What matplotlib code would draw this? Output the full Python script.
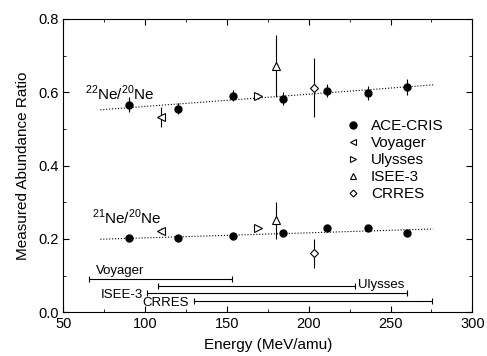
import matplotlib.pyplot as plt
from matplotlib.lines import Line2D
from matplotlib.ticker import MultipleLocator

plt.rcParams['font.family'] = ['Liberation Sans', 'DejaVu Sans']
plt.rcParams['mathtext.fontset'] = 'custom'
plt.rcParams['mathtext.rm'] = 'Liberation Sans'

# ACE-CRIS
ace_e = [90, 120, 154, 184, 211, 236, 260]
ace_22 = [0.566, 0.555, 0.590, 0.582, 0.604, 0.598, 0.615]
ace_22_err = [0.02, 0.015, 0.015, 0.018, 0.018, 0.018, 0.022]
ace_21 = [0.203, 0.202, 0.207, 0.216, 0.229, 0.230, 0.215]
ace_21_err = [0.006, 0.006, 0.006, 0.007, 0.008, 0.008, 0.008]

# other missions: energy, 22/20, err, 21/20, err
voy = [110, 0.533, 0.027, 0.221, 0.008]
uly = [169, 0.590, 0.008, 0.229, 0.006]
isee = [180, 0.672, 0.085, 0.251, 0.050]
crres = [203, 0.612, 0.080, 0.161, 0.040]

# dotted fits
fit_e = [72.6, 276]
fit_22 = [0.552, 0.620]
fit_21 = [0.199, 0.227]

# energy ranges
rng_names = ["Voyager", "Ulysses", "ISEE-3", "CRRES"]
rng_lo = [66, 108, 101, 130]
rng_hi = [153, 228, 260, 275.5]
rng_y = [0.090, 0.071, 0.052, 0.030]

fig, ax = plt.subplots(figsize=(4.87, 3.56), dpi=100)
fig.subplots_adjust(left=0.13, right=0.97, bottom=0.123, top=0.947)

ax.plot(fit_e, fit_22, ls=":", color="k", lw=0.8)
ax.plot(fit_e, fit_21, ls=":", color="k", lw=0.8)

ax.errorbar(ace_e, ace_22, yerr=ace_22_err, fmt="o", color="k", ms=5, elinewidth=0.8, capsize=0)
ax.errorbar(ace_e, ace_21, yerr=ace_21_err, fmt="o", color="k", ms=5, elinewidth=0.8, capsize=0)

handles = [Line2D([], [], ls="none", marker="o", color="k", ms=5)]
styles = [(voy, "<", "Voyager"), (uly, ">", "Ulysses"), (isee, "^", "ISEE-3"), (crres, "D", "CRRES")]
for d, m, name in styles:
    ms = 4.5 if m == "D" else 5.5
    ax.errorbar([d[0]], [d[1]], yerr=[d[2]], fmt=m, mfc="white", mec="k", color="k", ms=ms,
                mew=0.8, elinewidth=0.8, capsize=0)
    ax.errorbar([d[0]], [d[3]], yerr=[d[4]], fmt=m, mfc="white", mec="k", color="k", ms=ms,
                mew=0.8, elinewidth=0.8, capsize=0)
    handles.append(Line2D([], [], ls="none", marker=m, mfc="white", mec="k", ms=ms - 1, mew=0.8))

for i in range(len(rng_names)):
    ax.errorbar([(rng_lo[i] + rng_hi[i]) / 2], [rng_y[i]], xerr=[(rng_hi[i] - rng_lo[i]) / 2],
                fmt="none", ecolor="k", elinewidth=0.8, capsize=2, capthick=0.8)

ax.text(70, rng_y[0] + 0.005, "Voyager", fontsize=9.5, va="bottom", ha="left")
ax.text(rng_hi[1] + 2, rng_y[1] + 0.002, "Ulysses", fontsize=9.5, va="center", ha="left")
ax.text(rng_lo[2] - 2, rng_y[2] - 0.004, "ISEE-3", fontsize=9.5, va="center", ha="right")
ax.text(rng_lo[3] - 3, rng_y[3] - 0.006, "CRRES", fontsize=9.5, va="center", ha="right")

ax.text(63.5, 0.598, r"$^{22}$Ne/$^{20}$Ne", fontsize=11, va="center", ha="left")
ax.text(67.7, 0.258, r"$^{21}$Ne/$^{20}$Ne", fontsize=11, va="center", ha="left")

ax.set_xlim(50, 300)
ax.set_ylim(0.0, 0.8)
ax.xaxis.set_major_locator(MultipleLocator(50))
ax.xaxis.set_minor_locator(MultipleLocator(25))
ax.yaxis.set_major_locator(MultipleLocator(0.2))
ax.yaxis.set_minor_locator(MultipleLocator(0.1))
ax.yaxis.set_major_formatter(plt.FormatStrFormatter("%.1f"))
ax.tick_params(which="both", direction="in", top=True, right=True, labelsize=10.5)
ax.tick_params(which="major", length=4)
ax.tick_params(which="minor", length=2)
ax.set_xlabel("Energy (MeV/amu)", fontsize=11, labelpad=5)
ax.set_ylabel("Measured Abundance Ratio", fontsize=11, labelpad=6)

ax.legend(handles, ["ACE-CRIS", "Voyager", "Ulysses", "ISEE-3", "CRRES"],
          loc="upper left", bbox_to_anchor=(0.67, 0.68), frameon=False, fontsize=11,
          handletextpad=0.6, labelspacing=0.2, handlelength=1.2, borderaxespad=0)

plt.savefig("out.png", dpi=100)
